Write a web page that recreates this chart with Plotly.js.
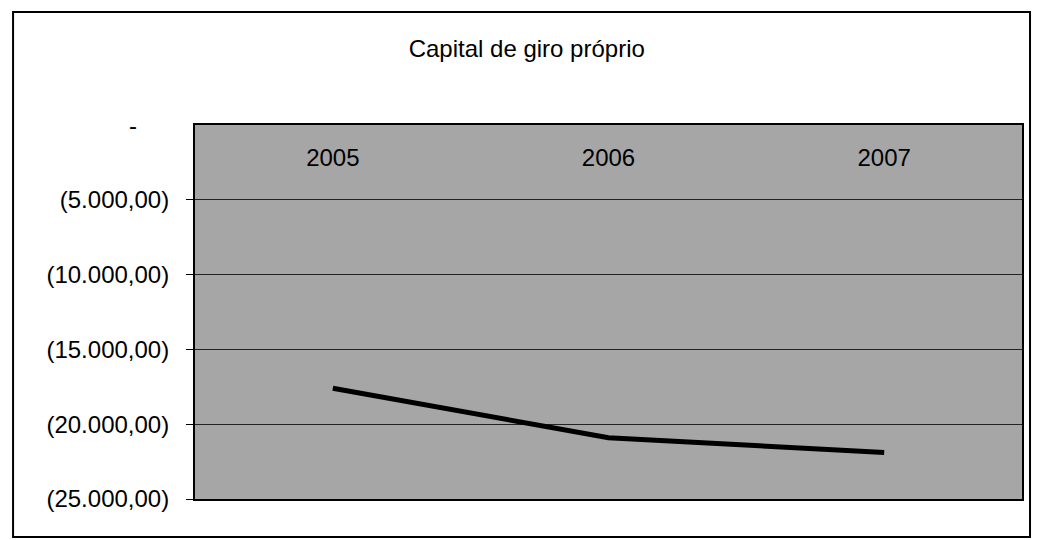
<!DOCTYPE html>
<html>
<head>
<meta charset="utf-8">
<script src="https://cdn.plot.ly/plotly-3.0.1.min.js"></script>
<style>
  html, body { margin: 0; padding: 0; background: #fff; }
  #chart { width: 1041px; height: 540px; }
</style>
</head>
<body>
<div id="chart"></div>
<script>
// Data
const years = ['2005', '2006', '2007'];
const capitalGiro = [-17600, -20900, -21900];

// Y axis ticks (accounting format, zero shown as a dash)
const yTickVals = [0, -5000, -10000, -15000, -20000, -25000];
const yTickText = ['-', '(5.000,00)', '(10.000,00)', '(15.000,00)', '(20.000,00)', '(25.000,00)'];

const font = 'Liberation Sans, Arial, sans-serif';

const data = [{
    x: years,
    y: capitalGiro,
    type: 'scatter',
    mode: 'lines',
    line: { color: '#000', width: 5 },
    hoverinfo: 'skip'
}];

const layout = {
    width: 1041,
    height: 540,
    margin: { l: 195, r: 19, t: 125, b: 41 },
    paper_bgcolor: '#fff',
    plot_bgcolor: '#a6a6a6',
    showlegend: false,
    font: { family: font, size: 24, color: '#000' },
    title: {
        text: 'Capital de giro próprio',
        font: { family: font, size: 24, color: '#000' },
        x: 0.506,
        xref: 'container',
        xanchor: 'center',
        y: 1 - 49 / 540,
        yref: 'container',
        yanchor: 'middle'
    },
    xaxis: {
        type: 'category',
        range: [-0.5, 2.5],
        side: 'top',
        ticks: '',
        ticklabelposition: 'inside',
        ticklabelstandoff: 26,
        showgrid: false,
        zeroline: false,
        showline: true,
        linecolor: '#000',
        linewidth: 2,
        mirror: true,
        tickfont: { family: font, size: 24, color: '#000' }
    },
    yaxis: {
        range: [-25000, 0],
        tickvals: yTickVals,
        ticktext: yTickText,
        ticks: 'outside',
        ticklen: 7,
        tickcolor: '#000',
        ticklabelstandoff: 12,
        showgrid: true,
        gridcolor: '#222',
        gridwidth: 1,
        zeroline: false,
        showline: true,
        linecolor: '#000',
        linewidth: 2,
        mirror: true,
        tickfont: { family: font, size: 24, color: '#000' }
    },
    // the zero label gets hidden by plotly next to the inside x labels, so put it back
    annotations: [{
        text: yTickText[0],
        xref: 'paper', yref: 'y',
        x: -0.075, y: yTickVals[0],
        xanchor: 'center', yanchor: 'middle',
        showarrow: false,
        font: { family: font, size: 24, color: '#000' }
    }],
    shapes: [{
        // outer chart frame
        type: 'rect',
        xref: 'paper', yref: 'paper',
        x0: -0.22, x1: 1.0097,
        y0: -0.1016, y1: 1.302,
        line: { color: '#000', width: 2 },
        fillcolor: 'rgba(0,0,0,0)',
        layer: 'above'
    }]
};

Plotly.newPlot('chart', data, layout, { displayModeBar: false, staticPlot: true });
</script>
</body>
</html>
